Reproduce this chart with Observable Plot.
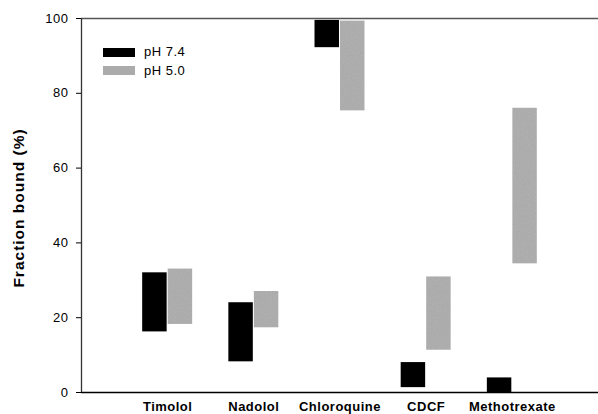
<!DOCTYPE html>
<html>
<head>
<meta charset="utf-8">
<script src="https://cdn.jsdelivr.net/npm/d3@7"></script>
<script src="https://cdn.jsdelivr.net/npm/@observablehq/plot@0.6"></script>
<style>
  html, body { margin: 0; padding: 0; background: #fff; }
  #wrap { position: relative; width: 598px; height: 414px; font-family: "Liberation Sans", Arial, sans-serif; }
  #wrap svg text { letter-spacing: 0.5px; }
  .leg { position: absolute; left: 103px; font-size: 13px; letter-spacing: 0.5px; color: #000; }
  .leg .sw { position: absolute; left: 0; width: 32px; height: 9px; }
  .leg .lb { position: absolute; left: 41px; white-space: nowrap; line-height: 14px; }
</style>
</head>
<body>
<svg width="0" height="0" style="position:absolute">
  <defs>
    <filter id="nz" x="0" y="0" width="100%" height="100%">
      <feTurbulence type="fractalNoise" baseFrequency="0.9" numOctaves="2" seed="4"/>
      <feColorMatrix type="saturate" values="0"/>
    </filter>
    <pattern id="grain" patternUnits="userSpaceOnUse" width="120" height="120">
      <rect width="120" height="120" fill="#ababab"/>
      <rect width="120" height="120" filter="url(#nz)" opacity="0.18"/>
    </pattern>
  </defs>
</svg>
<div id="wrap"></div>
<script>
const drugs = ["Timolol", "Nadolol", "Chloroquine", "CDCF", "Methotrexate"];
const ph74Low  = [16.2, 8.2, 92.2, 1.3, 0.0];
const ph74High = [32.0, 24.0, 99.5, 8.0, 3.9];
const ph50Low  = [18.2, 17.3, 75.3, 11.3, 34.4];
const ph50High = [33.0, 27.0, 99.3, 30.9, 76.0];
const seriesNames = ["pH 7.4", "pH 5.0"];
const seriesColors = ["#000000", "#ababab"];
const yTicks = [0, 20, 40, 60, 80, 100];
const yLabel = "Fraction bound (%)";

const rows74 = drugs.map((d, i) => ({drug: d, idx: i + 1, lo: ph74Low[i], hi: ph74High[i]}));
const rows50 = drugs.map((d, i) => ({drug: d, idx: i + 1, lo: ph50Low[i], hi: ph50High[i]}));
const half = 0.29;

const chart = Plot.plot({
  width: 598,
  height: 414,
  marginLeft: 81,
  marginRight: 0,
  marginTop: 18,
  marginBottom: 22,
  style: {fontFamily: "Liberation Sans, Arial, sans-serif", background: "#fff", overflow: "visible"},
  x: {type: "linear", domain: [0, 6]},
  y: {domain: [0, 100]},
  marks: [
    Plot.rect(rows74, {x1: d => d.idx - half, x2: d => d.idx - 0.006, y1: "lo", y2: "hi", fill: seriesColors[0]}),
    Plot.rect(rows50, {x1: d => d.idx + 0.006, x2: d => d.idx + half, y1: "lo", y2: "hi", fill: "url(#grain)"}),
    Plot.ruleY([100], {stroke: "#555", strokeWidth: 1.3}),
    Plot.ruleY([0], {stroke: "#000", strokeWidth: 1.3}),
    Plot.ruleX([0], {stroke: "#333", strokeWidth: 1.3}),
    Plot.axisY({ticks: yTicks, tickSize: 5, tickPadding: 8, fontSize: 13, label: null, tickFormat: d => String(d)}),
    Plot.axisX({ticks: drugs.map((d, i) => i + 1), tickFormat: v => drugs[v - 1], tickSize: 0, tickPadding: 9, fontSize: 13, fontWeight: "bold", label: null}),
    Plot.text([yLabel], {frameAnchor: "left", rotate: -90, dx: -62, dy: 2.5, textAnchor: "middle", text: d => d, fontSize: 15.5, fontWeight: "bold", fill: "#000"})
  ]
});

const wrap = document.getElementById("wrap");
wrap.appendChild(chart);
d3.select(chart).selectAll('g[aria-label="text"] text').style("letter-spacing", "1px");

seriesNames.forEach((name, i) => {
  const leg = document.createElement("div");
  leg.className = "leg";
  leg.style.top = (47.5 + i * 18.5) + "px";
  const sw = document.createElement("div");
  sw.className = "sw";
  sw.style.background = seriesColors[i];
  const lb = document.createElement("div");
  lb.className = "lb";
  lb.style.top = "-2.5px";
  lb.textContent = name;
  leg.appendChild(sw);
  leg.appendChild(lb);
  wrap.appendChild(leg);
});
</script>
</body>
</html>
